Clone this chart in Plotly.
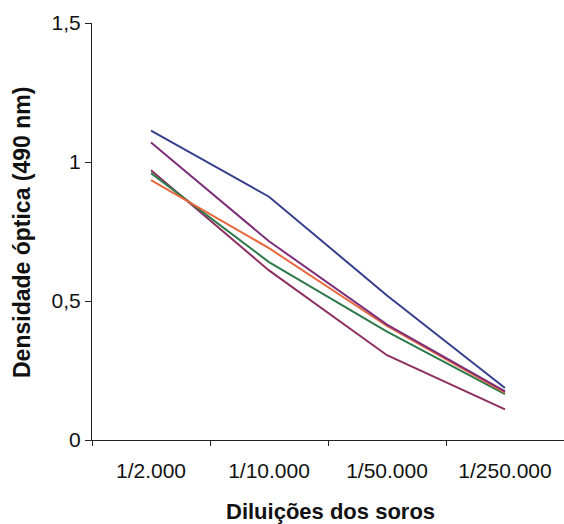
import plotly.graph_objects as go

categories = ["1/2.000", "1/10.000", "1/50.000", "1/250.000"]

serie_azul = [1.113, 0.875, 0.52, 0.187]
serie_magenta = [1.07, 0.715, 0.415, 0.175]
serie_laranja = [0.935, 0.69, 0.41, 0.17]
serie_verde = [0.96, 0.64, 0.39, 0.165]
serie_purpura = [0.97, 0.61, 0.305, 0.11]

y_ticks = [0, 0.5, 1, 1.5]
y_ticktext = ["0", "0,5", "1", "1,5"]

series = [
    (serie_purpura, "#8e2f62"),
    (serie_verde, "#2f7a4c"),
    (serie_laranja, "#e8673c"),
    (serie_magenta, "#7c2f78"),
    (serie_azul, "#373f8c"),
]

fig = go.Figure()
for vals, col in series:
    fig.add_trace(go.Scatter(x=categories, y=vals, mode="lines",
                             line=dict(color=col, width=2), showlegend=False))

font = "Liberation Sans, Arial, sans-serif"
fig.update_layout(
    width=564, height=524,
    margin=dict(l=92, r=0, t=23, b=84),
    paper_bgcolor="white", plot_bgcolor="white",
    font=dict(family=font, color="#111", size=21),
    xaxis=dict(type="category", range=[-0.5, 3.5], showgrid=False,
               showline=True, linecolor="#222", linewidth=1,
               ticks="outside", ticklen=5, tickcolor="#222",
               tickson="boundaries", tickfont=dict(size=21, family=font),
               ticklabelstandoff=12),
    yaxis=dict(range=[0, 1.5], tickvals=y_ticks, ticktext=y_ticktext,
               showgrid=False, zeroline=False, showline=True,
               linecolor="#222", linewidth=1, ticks="outside", ticklen=6,
               tickcolor="#222", tickfont=dict(size=21, family=font)),
    annotations=[
        dict(text="<b>Diluições dos soros</b>", xref="paper", yref="paper",
             x=0.506, y=(440 - 511) / 417, xanchor="center", yanchor="middle",
             showarrow=False, font=dict(size=22, family=font, color="#111")),
        dict(text="<b>Densidade óptica (490 nm)</b>", xref="paper", yref="paper",
             x=(22 - 92) / 472, y=(440 - 233) / 417, xanchor="center",
             yanchor="middle", textangle=-90, showarrow=False,
             font=dict(size=23, family=font, color="#111")),
    ],
)

fig.write_html("out.html")
